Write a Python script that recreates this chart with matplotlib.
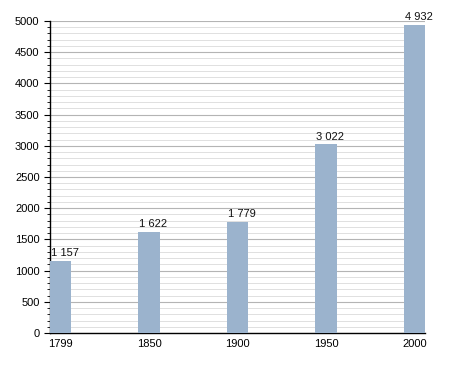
import matplotlib
matplotlib.use('Agg')
import matplotlib.pyplot as plt
import numpy as np
from matplotlib.ticker import MultipleLocator

years = ['1799', '1850', '1900', '1950', '2000']
population = [1157, 1622, 1779, 3022, 4932]
value_labels = ['1 157', '1 622', '1 779', '3 022', '4 932']

plt.rcParams['font.family'] = 'Liberation Sans'

fig = plt.figure(figsize=(4.55, 3.73), dpi=100)
ax = fig.add_axes([50/455, 40/373, 375/455, 312/373])

x = np.arange(len(years))
width = 0.24
bars = ax.bar(x, population, width=width, align='edge', color='#9bb3cd', zorder=3)

for b, lab in zip(bars, value_labels):
    ax.text(b.get_x() + 0.01, b.get_height() + 45, lab,
            ha='left', va='bottom', fontsize=8, color='#111111')

ax.set_xlim(0, len(years) - 1 + width)
ax.set_ylim(0, 5000)
ax.set_xticks(x + width/2)
ax.set_xticklabels(years, fontsize=8)
ax.yaxis.set_major_locator(MultipleLocator(500))
ax.yaxis.set_minor_locator(MultipleLocator(100))
ax.tick_params(axis='y', labelsize=8, length=4, width=0.8, direction='out')
ax.tick_params(axis='y', which='minor', length=2.5, width=0.6)
ax.tick_params(axis='x', length=0, pad=4)

ax.grid(axis='y', which='major', color='#b4b4b4', linewidth=0.8, zorder=0)
ax.grid(axis='y', which='minor', color='#e0e0e0', linewidth=0.7, zorder=0)

for s in ['top', 'right']:
    ax.spines[s].set_visible(False)
ax.spines['left'].set_linewidth(1.0)
ax.spines['bottom'].set_linewidth(1.0)

fig.savefig('out.png', dpi=100)
